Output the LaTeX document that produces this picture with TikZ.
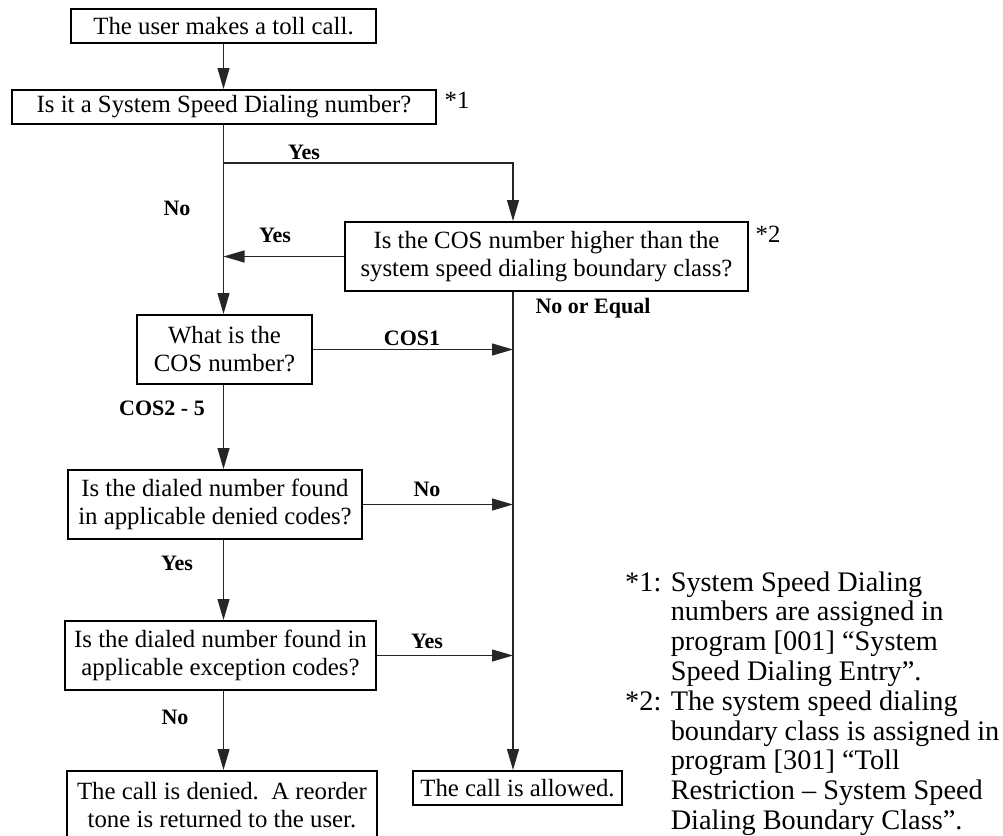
\documentclass[tikz,border=0pt]{standalone}
\usepackage{fontspec}
\setmainfont{Liberation Serif}
\usetikzlibrary{arrows.meta}
\newcommand\boxfont{\fontsize{24.8}{28}\selectfont}
\newcommand\lblfont{\fontsize{22}{24}\selectfont\bfseries}
\newcommand\notefont{\fontsize{28.3}{29.8}\selectfont}
\begin{document}
\begin{tikzpicture}[x=1pt,y=-1pt,
  flowbox/.style={draw=black, line width=2pt, inner sep=0pt, align=center, font=\boxfont},
  conn/.style={line width=1.1pt, draw=black!85},
  arr/.style={conn, -{Triangle[length=21pt,width=12pt]}},
  lbl/.style={font=\lblfont, inner sep=0pt},
  starlbl/.style={font=\boxfont, inner sep=0pt}
]
\useasboundingbox (0,0) rectangle (1003,835);
\node[flowbox, minimum width=305pt, minimum height=34pt] (b1) at (223.5,26) {The user makes a toll call.};
\node[flowbox, minimum width=424pt, minimum height=34pt] (b2) at (224,107) {Is it a System Speed Dialing number?};
\node[flowbox, minimum width=403pt, minimum height=69pt] (b3) at (546.5,256.5) {Is the COS number higher than the\\system speed dialing boundary class?};
\node[flowbox, minimum width=175pt, minimum height=69pt] (b4) at (224.5,349.5) {What is the\\COS number?};
\node[flowbox, minimum width=294pt, minimum height=69pt] (b5) at (215,504.5) {Is the dialed number found\\in applicable denied codes?};
\node[flowbox, minimum width=311pt, minimum height=69pt] (b6) at (220.5,655.5) {Is the dialed number found in\\applicable exception codes?};
\node[flowbox, minimum width=310pt, minimum height=69pt] (b7) at (222,805.5) {The call is denied.\ \ A reorder\\tone is returned to the user.};
\node[flowbox, minimum width=209pt, minimum height=34pt] (b8) at (517.5,788) {The call is allowed.};

\coordinate (L) at (223.5,0);
\coordinate (R) at (513,0);
\coordinate (yb) at (223.5,163);

\draw[arr] (b1.south -| L) -- (b2.north -| L);
\draw[arr] (b2.south -| L) -- (b4.north -| L);
\draw[arr] (yb) -- (yb -| R) -- (b3.north -| R);
\draw[arr] (b3.west) -- (b3.west -| L);
\draw[arr] (b3.south -| R) -- (b8.north -| R);
\draw[arr] (b4.east) -- (b4.east -| R);
\draw[arr] (b4.south -| L) -- (b5.north -| L);
\draw[arr] (b5.east) -- (b5.east -| R);
\draw[arr] (b5.south -| L) -- (b6.north -| L);
\draw[arr] (b6.east) -- (b6.east -| R);
\draw[arr] (b6.south -| L) -- (b7.north -| L);

\node[lbl] (lyes1) at (304,152) {Yes};
\node[lbl] (lno1) at (177,208) {No};
\node[lbl] (lyes2) at (275,235) {Yes};
\node[lbl] (lnoeq) at (593,308) {No or Equal};
\node[lbl] (lcos1) at (412,338) {COS1};
\node[lbl] (lcos25) at (162,408) {COS2 - 5};
\node[lbl] (lno2) at (427,489) {No};
\node[lbl] (lyes3) at (177,563) {Yes};
\node[lbl] (lyes4) at (427,641) {Yes};
\node[lbl] (lno3) at (175,717) {No};
\node[starlbl] (s1) at (457,100) {*1};
\node[starlbl] (s2) at (768,234) {*2};

\node[anchor=north west, inner sep=0pt, font=\notefont] (notes) at (625,570) {%
\begin{tabular}{@{}l@{ }l@{}}
{*}1: & System Speed Dialing\\
    & numbers are assigned in\\
    & program [001] “System\\
    & Speed Dialing Entry”.\\
{*}2: & The system speed dialing\\
    & boundary class is assigned in\\
    & program [301] “Toll\\
    & Restriction – System Speed\\
    & Dialing Boundary Class”.
\end{tabular}};
\end{tikzpicture}
\end{document}
